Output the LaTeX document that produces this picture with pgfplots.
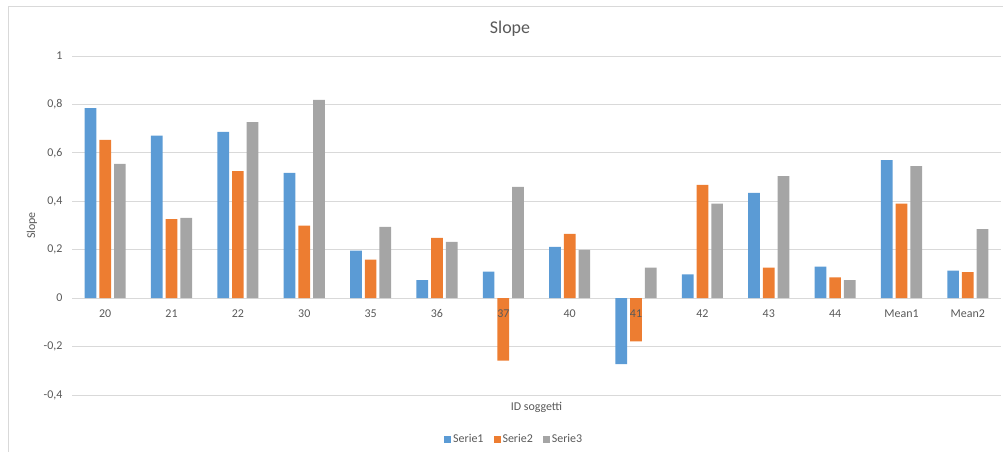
\documentclass[border=0pt]{standalone}
\usepackage{pgfplots}
\pgfplotsset{compat=1.18}
\usepackage{fontspec}
\setmainfont{Carlito}

\definecolor{serA}{HTML}{5B9BD5}
\definecolor{serB}{HTML}{ED7D31}
\definecolor{serC}{HTML}{A5A5A5}
\definecolor{txt}{HTML}{595959}
\definecolor{gridc}{HTML}{D9D9D9}

\pgfplotsset{
  sq/.style={legend image code/.code={\fill[##1] (0bp,-3.5bp) rectangle (7bp,3.5bp);}},
  frame/.style={
    at={(72bp,-56bp)}, anchor=north west,
    scale only axis, width=929bp, height=339bp,
    xmin=-0.5, xmax=13.5, ymin=-0.4, ymax=1,
    major tick length=0pt,
    tick label style={txt, font=\fontsize{12}{14}\selectfont},
    clip=false,
  },
}

\begin{document}
\begin{tikzpicture}
\path[use as bounding box] (0bp,0bp) rectangle (1003bp,-452bp);
% chart frame
\draw[gridc, line width=1bp] (8.5bp,-460bp) -- (8.5bp,-6.5bp) -- (1010bp,-6.5bp);
% chart title
\node[txt, font=\fontsize{18}{22}\selectfont, anchor=base] at (510bp,-33.5bp) {Slope};
\begin{axis}[
  frame,
  ybar=3bp, bar width=11.7bp,
  xtick={0,...,13}, xticklabels={},
  ytick={-0.4,-0.2,0,0.2,0.4,0.6,0.8,1},
  /pgf/number format/.cd, use comma, fixed, precision=1, assume math mode=true,
  /pgfplots/.cd,
  axis x line*=middle, axis y line*=left,
  x axis line style={draw=gridc, line width=1bp},
  y axis line style={draw=none},
  ymajorgrids, grid style={gridc, line width=1bp},
  y tick label style={xshift=-6bp},
  xlabel={ID soggetti}, ylabel={Slope},
  every axis x label/.style={at={(axis description cs:0.5,-0.0354)}, anchor=center,
    txt, font=\fontsize{12}{14}\selectfont},
  every axis y label/.style={at={(axis description cs:-0.0431,0.5)}, anchor=center, rotate=90,
    txt, font=\fontsize{12}{14}\selectfont},
  legend columns=3,
  legend style={draw=none, fill=none, at={(axis description cs:0.476,-0.13)}, anchor=center,
    font=\fontsize{12}{14}\selectfont, text=txt,
    /tikz/every even column/.append style={column sep=8bp}},
]
\addplot[fill=serA, draw=none, sq] coordinates {
  (0,0.785) (1,0.671) (2,0.687) (3,0.517) (4,0.196) (5,0.074) (6,0.110)
  (7,0.212) (8,-0.272) (9,0.098) (10,0.435) (11,0.130) (12,0.570) (13,0.114)};
\addplot[fill=serB, draw=none, sq] coordinates {
  (0,0.654) (1,0.326) (2,0.525) (3,0.300) (4,0.159) (5,0.249) (6,-0.258)
  (7,0.265) (8,-0.179) (9,0.468) (10,0.126) (11,0.086) (12,0.390) (13,0.107)};
\addplot[fill=serC, draw=none, sq] coordinates {
  (0,0.554) (1,0.331) (2,0.727) (3,0.819) (4,0.294) (5,0.232) (6,0.460)
  (7,0.199) (8,0.126) (9,0.390) (10,0.504) (11,0.074) (12,0.545) (13,0.285)};
\legend{Serie1,Serie2,Serie3}
\end{axis}
% category labels, set over the bars
\begin{axis}[
  frame,
  xtick={0,...,13},
  xticklabels={20,21,22,30,35,36,37,40,41,42,43,44,Mean1,Mean2},
  ytick=\empty,
  axis x line*=middle, axis y line=none,
  x axis line style={draw=none},
  x tick label style={yshift=-8bp},
]
\end{axis}
\end{tikzpicture}
\end{document}
